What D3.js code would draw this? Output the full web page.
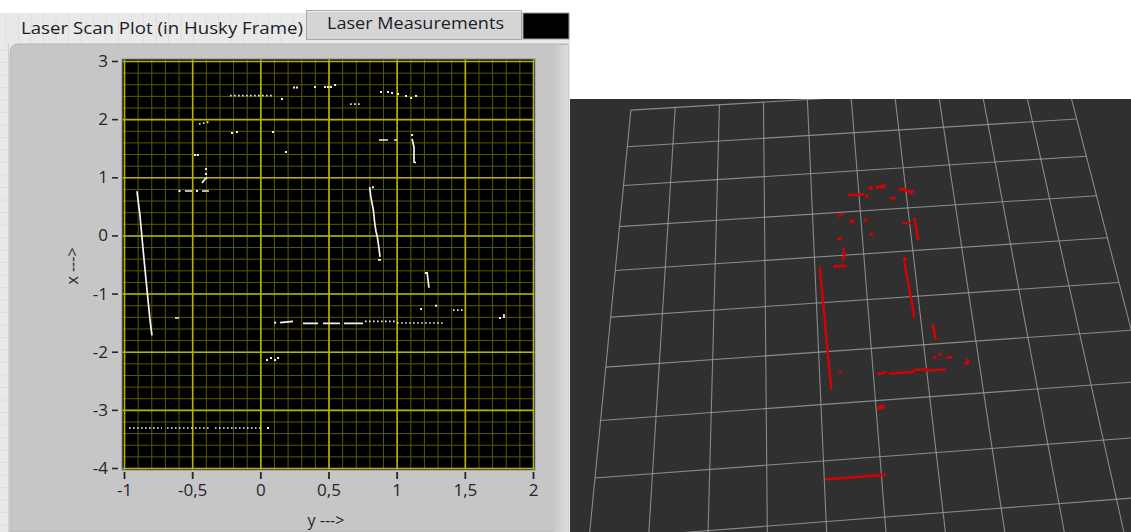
<!DOCTYPE html>
<html>
<head>
<meta charset="utf-8">
<script src="https://cdn.jsdelivr.net/npm/d3@7"></script>
<style>
  body { margin: 0; background: #fff; overflow: hidden; }
  svg { display: block; font-family: "Open Sans", "Noto Sans", sans-serif; }
</style>
</head>
<body>
<div id="chart"></div>
<script>
// ---- tick values / labels (LabVIEW uses comma decimals) ----
const yTicks = [-1, -0.5, 0, 0.5, 1, 1.5, 2];
const yTickLabels = ["-1", "-0,5", "0", "0,5", "1", "1,5", "2"];
const xTicks = [-4, -3, -2, -1, 0, 1, 2, 3];
const xTickLabels = ["-4", "-3", "-2", "-1", "0", "1", "2", "3"];

// ---- laser scan in husky frame, points are [y, x] in metres ----
const solidRuns = [
  [[-0.905, 0.76], [-0.883, 0.35], [-0.861, -0.22], [-0.831, -0.94], [-0.809, -1.46], [-0.795, -1.72]],
  [[0.802, 0.83], [0.81, 0.67], [0.819, 0.56], [0.829, 0.44], [0.839, 0.21], [0.849, 0.06], [0.858, -0.02], [0.869, -0.2], [0.878, -0.37]],
  [[0.863, -0.42], [0.885, -0.42]],
  [[1.113, 1.66], [1.127, 1.52], [1.127, 1.26], [1.142, 1.25]],
  [[1.223, -0.63], [1.23, -0.77], [1.237, -0.9]],
  [[-0.553, 0.764], [-0.501, 0.764]],
  [[-0.428, 0.764], [-0.377, 0.764]],
  [[-0.391, 1.0], [-0.413, 0.95], [-0.428, 0.9]],
  [[0.87, 1.641], [0.936, 1.641]],
  [[0.981, 1.641], [1.003, 1.641]],
  [[0.144, -1.5], [0.24, -1.477]],
  [[0.313, -1.511], [0.423, -1.511]],
  [[0.46, -1.511], [0.584, -1.511]],
  [[0.614, -1.511], [0.753, -1.511]],
  [[-0.626, -1.42], [-0.597, -1.42]],
  [[1.787, -1.35], [1.787, -1.42]]
];

const dottedRuns = [
  [[-0.222, 2.403], [0.086, 2.403]],
  [[0.658, 2.26], [0.746, 2.26]],
  [[-0.45, 1.916], [-0.377, 1.951]],
  [[-0.963, -3.312], [-0.721, -3.312]],
  [[-0.685, -3.312], [-0.369, -3.312]],
  [[-0.333, -3.312], [0.012, -3.312]],
  [[0.768, -1.477], [1.003, -1.477]],
  [[1.003, -1.506], [1.34, -1.506]],
  [[1.413, -1.283], [1.487, -1.283]]
];

const scanDots = [
  [0.247, 2.544], [0.269, 2.544], [0.401, 2.553], [0.474, 2.553], [0.496, 2.553],
  [0.518, 2.553], [0.548, 2.587], [0.159, 2.346], [-0.208, 1.762], [-0.171, 1.779],
  [0.093, 1.779], [0.188, 1.435], [-0.479, 1.383], [-0.458, 1.383], [-0.399, 1.142],
  [-0.399, 1.056], [0.826, 0.828], [1.113, 1.727], [-0.593, 0.764], [-0.465, 0.764],
  [0.108, -1.501], [1.179, -1.266], [1.289, -1.209], [1.758, -1.42], [0.049, -2.143],
  [0.078, -2.108], [0.108, -2.143], [0.13, -2.108], [0.056, -3.312], [0.885, 2.467],
  [0.936, 2.467], [0.966, 2.45], [1.01, 2.432], [1.069, 2.398], [1.106, 2.364],
  [1.142, 2.398], [1.215, -0.646]
];

// rviz grid: 10 x 10 cells of 1 m, lines in metres
const gridLines = [-5, -4, -3, -2, -1, 0, 1, 2, 3, 4, 5];

const W = 1131, H = 532;
const svg = d3.select("#chart").append("svg").attr("width", W).attr("height", H);
const defs = svg.append("defs");

// =================== LabVIEW panel (left) ===================
svg.append("rect").attr("x", 0).attr("y", 13).attr("width", 570).attr("height", H - 13).attr("fill", "#e9e9e9");

// faint front panel grid in header band
const panelGrid = svg.append("g").attr("stroke", "#dedede").attr("stroke-width", 1);
d3.range(6, 306, 12.5).forEach((x) => {
  panelGrid.append("line").attr("x1", x).attr("x2", x).attr("y1", 13).attr("y2", 44);
});
d3.range(50, 532, 12.5).forEach((y) => {
  panelGrid.append("line").attr("x1", 0).attr("x2", 8).attr("y1", y).attr("y2", y);
});
svg.append("line").attr("x1", 8.5).attr("x2", 8.5).attr("y1", 44).attr("y2", H).attr("stroke", "#d2d2d2");

// tabs
svg.append("text")
  .attr("x", 21).attr("y", 34)
  .attr("font-size", 17).attr("fill", "#1c1c28")
  .attr("textLength", 282).attr("lengthAdjust", "spacingAndGlyphs")
  .text("Laser Scan Plot (in Husky Frame)");

svg.append("rect").attr("x", 306.5).attr("y", 10.5).attr("width", 215).attr("height", 29)
  .attr("fill", "#d5d5d5").attr("stroke", "#a8a8a8");
svg.append("line").attr("x1", 307).attr("x2", 521).attr("y1", 11.5).attr("y2", 11.5).attr("stroke", "#efefef");
svg.append("text")
  .attr("x", 327).attr("y", 29)
  .attr("font-size", 17).attr("fill", "#1c1c28")
  .attr("textLength", 177).attr("lengthAdjust", "spacingAndGlyphs")
  .text("Laser Measurements");
svg.append("rect").attr("x", 523).attr("y", 13).attr("width", 46).attr("height", 26)
  .attr("fill", "#000").attr("stroke", "#9a9a9a");

// graph frame
const fx0 = 10, fy0 = 44, fx1 = 568, r = 9;
svg.append("path")
  .attr("d", `M${fx0},${H} L${fx0},${fy0 + r} Q${fx0},${fy0} ${fx0 + r},${fy0} L${fx1},${fy0} L${fx1},${H} Z`)
  .attr("fill", "#c6c6c6").attr("stroke", "#b4b4b4");
const edgeGrad = defs.append("linearGradient").attr("id", "edge").attr("x1", 0).attr("x2", 1);
edgeGrad.append("stop").attr("offset", 0).attr("stop-color", "#c6c6c6");
edgeGrad.append("stop").attr("offset", 1).attr("stop-color", "#dcdcdc");
svg.append("rect").attr("x", 553).attr("y", fy0 + 1).attr("width", 15).attr("height", H - fy0)
  .attr("fill", "url(#edge)");

// scales
const px0 = 124, px1 = 533, py0 = 61, py1 = 468;
const xScale = d3.scaleLinear().domain([-1, 2]).range([px0, px1]);   // horizontal: y
const yScale = d3.scaleLinear().domain([-4, 3]).range([py1, py0]);   // vertical: x

// plot background
svg.append("rect").attr("x", 122).attr("y", 59).attr("width", 413).attr("height", 411)
  .attr("fill", "#000").attr("stroke", "#8c8c8c");
defs.append("clipPath").attr("id", "plotClip")
  .append("rect").attr("x", 122.5).attr("y", 59.5).attr("width", 412).attr("height", 410);
const plot = svg.append("g").attr("clip-path", "url(#plotClip)");

// minor grid
plot.append("g")
  .attr("transform", `translate(0,${py1})`)
  .call(d3.axisBottom(xScale).ticks(30).tickSize(-(py1 - py0) - 10).tickFormat(""))
  .call((g) => g.select(".domain").remove())
  .call((g) => g.selectAll("line").attr("stroke", "#5a5a00").attr("stroke-width", 1).attr("transform", (d) => `translate(0,5)`));
plot.append("g")
  .attr("transform", `translate(${px0},0)`)
  .call(d3.axisLeft(yScale).ticks(35).tickSize(-(px1 - px0) - 10).tickFormat(""))
  .call((g) => g.select(".domain").remove())
  .call((g) => g.selectAll("line").attr("stroke", "#5a5a00").attr("stroke-width", 1).attr("transform", "translate(-5,0)"));

// major grid
plot.append("g")
  .attr("transform", `translate(0,${py1})`)
  .call(d3.axisBottom(xScale).tickValues(yTicks).tickSize(-(py1 - py0) - 10).tickFormat(""))
  .call((g) => g.select(".domain").remove())
  .call((g) => g.selectAll("line").attr("stroke", "#b4b400").attr("stroke-width", 1.6).attr("transform", "translate(0,5)"));
plot.append("g")
  .attr("transform", `translate(${px0},0)`)
  .call(d3.axisLeft(yScale).tickValues(xTicks).tickSize(-(px1 - px0) - 10).tickFormat(""))
  .call((g) => g.select(".domain").remove())
  .call((g) => g.selectAll("line").attr("stroke", "#b4b400").attr("stroke-width", 1.6).attr("transform", "translate(-5,0)"));

// scan data
const lineL = d3.line().x((d) => xScale(d[0])).y((d) => yScale(d[1]));
plot.selectAll(".solid").data(solidRuns).join("path")
  .attr("class", "solid").attr("d", lineL)
  .attr("fill", "none").attr("stroke", "#f4f4f4").attr("stroke-width", 1.7);
plot.selectAll(".dotted").data(dottedRuns).join("path")
  .attr("class", "dotted").attr("d", lineL)
  .attr("fill", "none").attr("stroke", "#f0f0f0").attr("stroke-width", 1.7)
  .attr("stroke-dasharray", "1.6,2.4");
plot.selectAll(".dot").data(scanDots).join("rect")
  .attr("class", "dot")
  .attr("x", (d) => xScale(d[0]) - 1).attr("y", (d) => yScale(d[1]) - 1)
  .attr("width", 2).attr("height", 2).attr("fill", "#f4f4f4");

// axes
const axisCol = "#24242e";
svg.append("g")
  .attr("transform", "translate(118,0)")
  .call(d3.axisLeft(yScale).tickValues(xTicks).tickSize(6).tickPadding(4)
    .tickFormat((d, i) => xTickLabels[i]))
  .call((g) => g.select(".domain").remove())
  .call((g) => g.selectAll("line").attr("stroke", axisCol).attr("stroke-width", 1.6))
  .call((g) => g.selectAll("text").attr("font-size", 17).attr("fill", axisCol)
    .attr("font-family", "'Open Sans', sans-serif"));

svg.append("g")
  .attr("transform", "translate(0,472)")
  .call(d3.axisBottom(xScale).tickValues(yTicks).tickSize(7).tickPadding(5)
    .tickFormat((d, i) => yTickLabels[i]))
  .call((g) => g.select(".domain").remove())
  .call((g) => g.selectAll("line").attr("stroke", axisCol).attr("stroke-width", 1.8))
  .call((g) => g.selectAll("text").attr("font-size", 17).attr("fill", axisCol)
    .attr("font-family", "'Open Sans', sans-serif"));

svg.append("text")
  .attr("transform", "translate(78,266) rotate(-90)")
  .attr("text-anchor", "middle").attr("font-size", 16).attr("fill", axisCol)
  .text("x --->");
svg.append("text")
  .attr("x", 326).attr("y", 526)
  .attr("text-anchor", "middle").attr("font-size", 16).attr("fill", axisCol)
  .text("y --->");

// =================== RViz view (right) ===================
const rx0 = 570, ry0 = 99;
svg.append("rect").attr("x", rx0).attr("y", ry0).attr("width", W - rx0).attr("height", H - ry0)
  .attr("fill", "#303030");
defs.append("clipPath").attr("id", "rvizClip")
  .append("rect").attr("x", rx0).attr("y", ry0).attr("width", W - rx0).attr("height", H - ry0);

// ground plane -> screen homography, from four grid corners
function homography(pairs) {
  const A = [], b = [];
  pairs.forEach(([[x, y], [X, Y]]) => {
    A.push([x, y, 1, 0, 0, 0, -x * X, -y * X]); b.push(X);
    A.push([0, 0, 0, x, y, 1, -x * Y, -y * Y]); b.push(Y);
  });
  const n = 8;
  for (let i = 0; i < n; i++) {
    let p = i;
    for (let k = i + 1; k < n; k++) if (Math.abs(A[k][i]) > Math.abs(A[p][i])) p = k;
    [A[i], A[p]] = [A[p], A[i]]; [b[i], b[p]] = [b[p], b[i]];
    for (let k = i + 1; k < n; k++) {
      const f = A[k][i] / A[i][i];
      for (let c = i; c < n; c++) A[k][c] -= f * A[i][c];
      b[k] -= f * b[i];
    }
  }
  const h = new Array(n);
  for (let i = n - 1; i >= 0; i--) {
    let s = b[i];
    for (let c = i + 1; c < n; c++) s -= A[i][c] * h[c];
    h[i] = s / A[i][i];
  }
  return ([y, x]) => {
    const w = h[6] * y + h[7] * x + 1;
    return [(h[0] * y + h[1] * x + h[2]) / w, (h[3] * y + h[4] * x + h[5]) / w];
  };
}
const project = homography([
  [[-5, 4], [627.3, 146.7]],
  [[5, 4], [1076.7, 119]],
  [[-5, -3], [595, 478]],
  [[5, -3], [1158.6, 436]]
]);

const rviz = svg.append("g").attr("clip-path", "url(#rvizClip)");
const lineR = d3.line().x((d) => project(d)[0]).y((d) => project(d)[1]);
const gridSegs = [];
gridLines.forEach((k) => {
  gridSegs.push([[k, 5], [k, -5]]);
  gridSegs.push([[-5, k], [5, k]]);
});
rviz.selectAll(".grid").data(gridSegs).join("path")
  .attr("class", "grid").attr("d", lineR)
  .attr("fill", "none").attr("stroke", "#a0a0a2").attr("stroke-opacity", 0.8).attr("stroke-width", 1.1);

rviz.selectAll(".rsolid").data(solidRuns.concat(dottedRuns)).join("path")
  .attr("class", "rsolid").attr("d", lineR)
  .attr("fill", "none").attr("stroke", "#d80000").attr("stroke-width", 2.4)
  .attr("stroke-linecap", "round");
rviz.selectAll(".rdot").data(scanDots).join("circle")
  .attr("class", "rdot")
  .attr("cx", (d) => project(d)[0]).attr("cy", (d) => project(d)[1])
  .attr("r", 1.8).attr("fill", "#d80000");
</script>
</body>
</html>
